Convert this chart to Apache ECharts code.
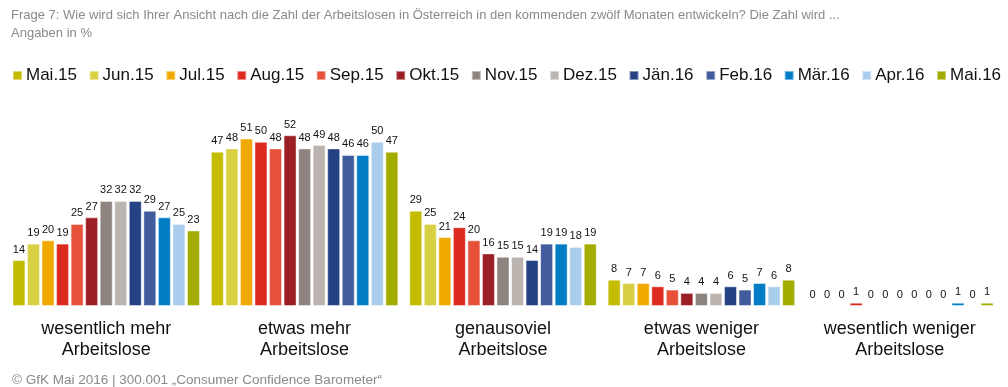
<!DOCTYPE html>
<html>
<head>
<meta charset="utf-8">
<script src="https://cdn.jsdelivr.net/npm/echarts@6/dist/echarts.min.js"></script>
<style>html,body{margin:0;padding:0;background:#fff}#c{width:1008px;height:387px}</style>
</head>
<body>
<div id="c"></div>
<script>
const categories = ["wesentlich mehr\nArbeitslose", "etwas mehr\nArbeitslose", "genausoviel\nArbeitslose", "etwas weniger\nArbeitslose", "wesentlich weniger\nArbeitslose"];
const months = ["Mai.15","Jun.15","Jul.15","Aug.15","Sep.15","Okt.15","Nov.15","Dez.15","Jän.16","Feb.16","Mär.16","Apr.16","Mai.16"];
const colors = ["#C3BC00","#D8D043","#F0A900","#DC2A1F","#E85139","#9B1F25","#8D847F","#BCB4AF","#244283","#415C9C","#007DC4","#ABCDED","#A3AD00"];
const mai15 = [14, 47, 29, 8, 0];
const jun15 = [19, 48, 25, 7, 0];
const jul15 = [20, 51, 21, 7, 0];
const aug15 = [19, 50, 24, 6, 1];
const sep15 = [25, 48, 20, 5, 0];
const okt15 = [27, 52, 16, 4, 0];
const nov15 = [32, 48, 15, 4, 0];
const dez15 = [32, 49, 15, 4, 0];
const jan16 = [32, 48, 14, 6, 0];
const feb16 = [29, 46, 19, 5, 0];
const mar16 = [27, 46, 19, 7, 1];
const apr16 = [25, 50, 18, 6, 0];
const mai16 = [23, 47, 19, 8, 1];
const seriesValues = [mai15, jun15, jul15, aug15, sep15, okt15, nov15, dez15, jan16, feb16, mar16, apr16, mai16];
const titleText = "Frage 7: Wie wird sich Ihrer Ansicht nach die Zahl der Arbeitslosen in Österreich in den kommenden zwölf Monaten entwickeln? Die Zahl wird ...";
const subText = "Angaben in %";
const footer = "© GfK Mai 2016 | 300.001 „Consumer Confidence Barometer“";

const FONT = "Liberation Sans, Arial, sans-serif";
const chart = echarts.init(document.getElementById('c'), null, {renderer: 'canvas'});
chart.setOption({
  animation: false,
  color: colors,
  textStyle: {fontFamily: FONT},
  title: [
    {text: titleText, left: 6, top: 4, textStyle: {fontSize: 13, fontWeight: 'normal', color: '#8a8a8a', fontFamily: FONT},
     subtext: subText, itemGap: 5, subtextStyle: {fontSize: 13, color: '#8a8a8a', fontFamily: FONT}},
    {text: footer, left: 7, top: 368, textStyle: {fontSize: 13.5, fontWeight: 'normal', color: '#8a8a8a', fontFamily: FONT}}
  ],
  legend: {
    top: 67, left: 12, right: 0, padding: 0, itemWidth: 9, itemHeight: 9, itemGap: 11.6, icon: 'rect',
    textStyle: {fontSize: 17, color: '#111', fontFamily: FONT, padding: [0, 0, 0, -1]},
    data: months
  },
  grid: {left: 7, right: 9, top: 109, bottom: 81, containLabel: false},
  xAxis: {
    type: 'category', data: categories,
    axisLine: {show: false}, axisTick: {show: false},
    axisLabel: {fontSize: 18, color: '#111', lineHeight: 21, margin: 13, fontFamily: FONT}
  },
  yAxis: {type: 'value', min: 0, max: 60, show: false, splitLine: {show: false}},
  series: months.map((m, i) => ({
    name: m, type: 'bar', data: seriesValues[i],
    barGap: '12%', barCategoryGap: '5.5%',
    itemStyle: {color: colors[i], borderColor: 'rgba(255,255,255,0.45)', borderWidth: 1},
    label: {show: true, position: 'top', distance: 5, fontSize: 11, color: '#111', fontFamily: FONT}
  }))
});
</script>
</body>
</html>
